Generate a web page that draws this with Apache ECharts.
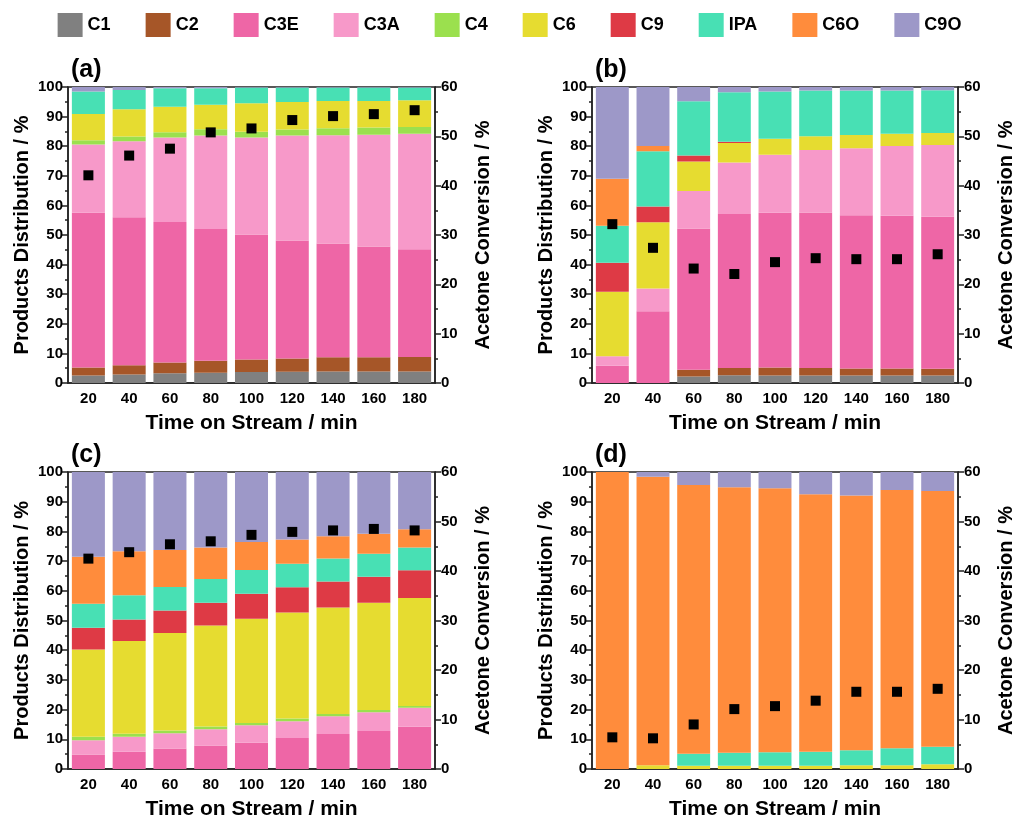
<!DOCTYPE html>
<html>
<head>
<meta charset="utf-8">
<title>Products distribution</title>
<script src="https://cdn.jsdelivr.net/npm/echarts@6/dist/echarts.min.js"></script>
<style>
  html, body { margin: 0; padding: 0; background: #fff; }
  #chart { width: 1019px; height: 823px; }
</style>
</head>
<body>
<div id="chart"></div>
<script>
// categories
const times = ['20', '40', '60', '80', '100', '120', '140', '160', '180']
const names = ['C1', 'C2', 'C3E', 'C3A', 'C4', 'C6', 'C9', 'IPA', 'C6O', 'C9O']

// panel (a)
const aC1 = [2.5, 2.9, 3.3, 3.5, 3.7, 3.8, 3.9, 3.9, 3.9]
const aC2 = [2.7, 3.1, 3.6, 4.0, 4.2, 4.5, 4.8, 4.8, 4.9]
const aC3E = [52.3, 50.0, 47.5, 44.5, 42.3, 39.8, 38.4, 37.4, 36.4]
const aC3A = [23.1, 25.7, 28.5, 31.6, 32.7, 35.5, 36.6, 37.8, 39.0]
const aC4 = [1.4, 1.6, 1.8, 2.1, 2.0, 2.0, 2.4, 2.4, 2.3]
const aC6 = [8.9, 9.2, 8.6, 8.3, 9.6, 9.3, 9.2, 9.0, 9.0]
const aC9 = [0, 0, 0, 0, 0, 0, 0, 0, 0]
const aIPA = [7.6, 6.5, 6.3, 5.6, 5.3, 4.9, 4.5, 4.5, 4.3]
const aC6O = [0, 0, 0, 0, 0, 0, 0, 0, 0]
const aC9O = [1.5, 1.0, 0.4, 0.4, 0.2, 0.2, 0.2, 0.2, 0.2]
const aConv = [42.1, 46.1, 47.5, 50.8, 51.6, 53.3, 54.1, 54.5, 55.3]

// panel (b)
const bC1 = [0, 0, 2.2, 2.6, 2.5, 2.5, 2.5, 2.5, 2.5]
const bC2 = [0, 0, 2.3, 2.5, 2.7, 2.6, 2.4, 2.4, 2.3]
const bC3E = [5.8, 24.2, 47.7, 52.0, 52.3, 52.5, 51.8, 51.6, 51.4]
const bC3A = [3.2, 7.7, 12.7, 17.4, 19.6, 21.1, 22.6, 23.6, 24.2]
const bC4 = [0, 0, 0, 0, 0, 0, 0, 0, 0]
const bC6 = [21.8, 22.4, 9.9, 6.6, 5.4, 4.7, 4.5, 4.1, 4.1]
const bC9 = [9.8, 5.3, 2.1, 0.4, 0, 0, 0, 0, 0]
const bIPA = [12.5, 18.7, 18.3, 16.7, 16.0, 15.4, 15.0, 14.6, 14.4]
const bC6O = [15.9, 1.8, 0, 0, 0, 0, 0, 0, 0]
const bC9O = [31.0, 19.9, 4.8, 1.8, 1.5, 1.2, 1.2, 1.2, 1.1]
const bConv = [32.2, 27.4, 23.2, 22.1, 24.5, 25.3, 25.1, 25.1, 26.1]

// panel (c)
const cC1 = [0, 0, 0, 0, 0, 0, 0, 0, 0]
const cC2 = [0, 0, 0, 0, 0, 0, 0, 0, 0]
const cC3E = [4.9, 5.8, 6.9, 7.9, 8.8, 10.4, 11.8, 12.8, 14.2]
const cC3A = [4.8, 5.1, 5.1, 5.5, 5.9, 5.7, 6.0, 6.3, 6.4]
const cC4 = [1.2, 1.0, 1.0, 0.9, 0.8, 0.9, 0.7, 0.8, 0.6]
const cC6 = [29.3, 31.2, 32.8, 34.0, 35.1, 35.7, 35.9, 36.1, 36.4]
const cC9 = [7.4, 7.2, 7.6, 7.7, 8.4, 8.5, 8.7, 8.7, 9.3]
const cIPA = [8.0, 8.2, 7.9, 8.0, 8.0, 7.9, 7.8, 7.8, 7.7]
const cC6O = [15.9, 14.8, 12.4, 10.6, 9.4, 8.2, 7.5, 6.7, 6.1]
const cC9O = [28.5, 26.7, 26.3, 25.4, 23.6, 22.7, 21.6, 20.8, 19.3]
const cConv = [42.5, 43.8, 45.4, 46.0, 47.3, 47.9, 48.2, 48.5, 48.2]

// panel (d)
const dC1 = [0, 0, 0, 0, 0, 0, 0, 0, 0]
const dC2 = [0, 0, 0, 0, 0, 0, 0, 0, 0]
const dC3E = [0, 0, 0, 0, 0, 0, 0, 0, 0]
const dC3A = [0, 0, 0, 0, 0, 0, 0, 0, 0]
const dC4 = [0, 0, 0, 0, 0, 0, 0, 0, 0]
const dC6 = [0, 1.3, 1.1, 1.1, 1.1, 1.1, 1.3, 1.3, 1.6]
const dC9 = [0, 0, 0, 0, 0, 0, 0, 0, 0]
const dIPA = [0, 0, 4.0, 4.4, 4.5, 4.7, 5.0, 5.7, 5.9]
const dC6O = [100, 97.1, 90.5, 89.4, 88.9, 86.7, 85.8, 86.9, 86.1]
const dC9O = [0, 1.6, 4.4, 5.1, 5.5, 7.5, 7.9, 6.1, 6.4]
const dConv = [6.4, 6.2, 9.0, 12.1, 12.7, 13.8, 15.6, 15.6, 16.2]

const panels = [
  { label: '(a)', values: [aC1, aC2, aC3E, aC3A, aC4, aC6, aC9, aIPA, aC6O, aC9O], conv: aConv },
  { label: '(b)', values: [bC1, bC2, bC3E, bC3A, bC4, bC6, bC9, bIPA, bC6O, bC9O], conv: bConv },
  { label: '(c)', values: [cC1, cC2, cC3E, cC3A, cC4, cC6, cC9, cIPA, cC6O, cC9O], conv: cConv },
  { label: '(d)', values: [dC1, dC2, dC3E, dC3A, dC4, dC6, dC9, dIPA, dC6O, dC9O], conv: dConv }
]

const colors = ['#808080', '#a65628', '#ee66a6', '#f799c9', '#9be04e', '#e6dc30', '#de3a45', '#48e0b4', '#ff8c3c', '#9d98c8']
const ink = '#222'
const font = 'Arial, "Liberation Sans", sans-serif'

const grids = [
  { left: 68, top: 87, width: 367, height: 296 },
  { left: 592, top: 87, width: 366, height: 296 },
  { left: 68, top: 472, width: 367, height: 297 },
  { left: 592, top: 472, width: 366, height: 297 }
]

const xAxis = []
const yAxis = []
const series = []
const title = []

panels.forEach((p, i) => {
  const g = grids[i]
  title.push({
    text: p.label,
    left: g.left - 2,
    top: g.top - 34,
    textStyle: { fontFamily: font, fontSize: 25, fontWeight: 'bold', color: '#000' }
  })
  // labelled axis, ticks at the bar centres
  xAxis.push({
    type: 'category',
    gridIndex: i,
    data: times,
    name: 'Time on Stream / min',
    nameLocation: 'middle',
    nameGap: 30,
    nameTextStyle: { fontFamily: font, fontSize: 21, fontWeight: 'bold', color: '#000' },
    axisLine: { lineStyle: { color: ink, width: 1.5 } },
    axisTick: { alignWithLabel: true, length: 5, lineStyle: { color: ink, width: 1.5 } },
    axisLabel: { fontFamily: font, fontSize: 15, fontWeight: 'bold', color: '#000', margin: 8 }
  })
  // unlabelled axis for the ticks between bars
  xAxis.push({
    type: 'category',
    gridIndex: i,
    data: times,
    axisLine: { show: false },
    axisTick: { length: 4, lineStyle: { color: ink, width: 1.5 } },
    axisLabel: { show: false }
  })
  yAxis.push({
    type: 'value',
    gridIndex: i,
    min: 0,
    max: 100,
    interval: 10,
    name: 'Products Distribution / %',
    nameLocation: 'middle',
    nameGap: 36,
    nameTextStyle: { fontFamily: font, fontSize: 20, fontWeight: 'bold', color: '#000' },
    axisLine: { show: true, lineStyle: { color: ink, width: 1.5 } },
    axisTick: { show: true, length: 6, lineStyle: { color: ink, width: 1.5 } },
    minorTick: { show: true, splitNumber: 2, length: 3, lineStyle: { color: ink, width: 1.5 } },
    splitLine: { show: false },
    axisLabel: { fontFamily: font, fontSize: 15, fontWeight: 'bold', color: '#000', margin: 5 }
  })
  yAxis.push({
    type: 'value',
    gridIndex: i,
    position: 'right',
    min: 0,
    max: 60,
    interval: 10,
    name: 'Acetone Conversion / %',
    nameLocation: 'middle',
    nameGap: 38,
    nameRotate: 90,
    nameTextStyle: { fontFamily: font, fontSize: 20, fontWeight: 'bold', color: '#000' },
    axisLine: { show: true, lineStyle: { color: ink, width: 1.5 } },
    axisTick: { show: true, length: 6, lineStyle: { color: ink, width: 1.5 } },
    minorTick: { show: true, splitNumber: 2, length: 3, lineStyle: { color: ink, width: 1.5 } },
    splitLine: { show: false },
    axisLabel: { fontFamily: font, fontSize: 15, fontWeight: 'bold', color: '#000', margin: 6 }
  })
  names.forEach((n, k) => {
    series.push({
      name: n,
      type: 'bar',
      stack: 'panel' + i,
      xAxisIndex: 2 * i,
      yAxisIndex: 2 * i,
      barCategoryGap: '19%',
      itemStyle: { color: colors[k] },
      data: p.values[k]
    })
  })
  series.push({
    name: 'Conversion',
    type: 'scatter',
    xAxisIndex: 2 * i,
    yAxisIndex: 2 * i + 1,
    symbol: 'rect',
    symbolSize: 10,
    z: 5,
    itemStyle: { color: '#000', opacity: 1 },
    data: p.conv
  })
})

const myChart = echarts.init(document.getElementById('chart'))
const option = {
  animation: false,
  backgroundColor: '#fff',
  textStyle: { fontFamily: font },
  title: title,
  legend: {
    data: names,
    top: 8,
    left: 'center',
    icon: 'rect',
    itemWidth: 25,
    itemHeight: 24,
    itemGap: 35,
    textStyle: { fontFamily: font, fontSize: 18, fontWeight: 'bold', color: '#000' }
  },
  grid: grids.map(g => ({ ...g, show: true, borderColor: ink, borderWidth: 1.5, backgroundColor: 'transparent' })),
  xAxis: xAxis,
  yAxis: yAxis,
  series: series
}
myChart.setOption(option)
</script>
</body>
</html>
